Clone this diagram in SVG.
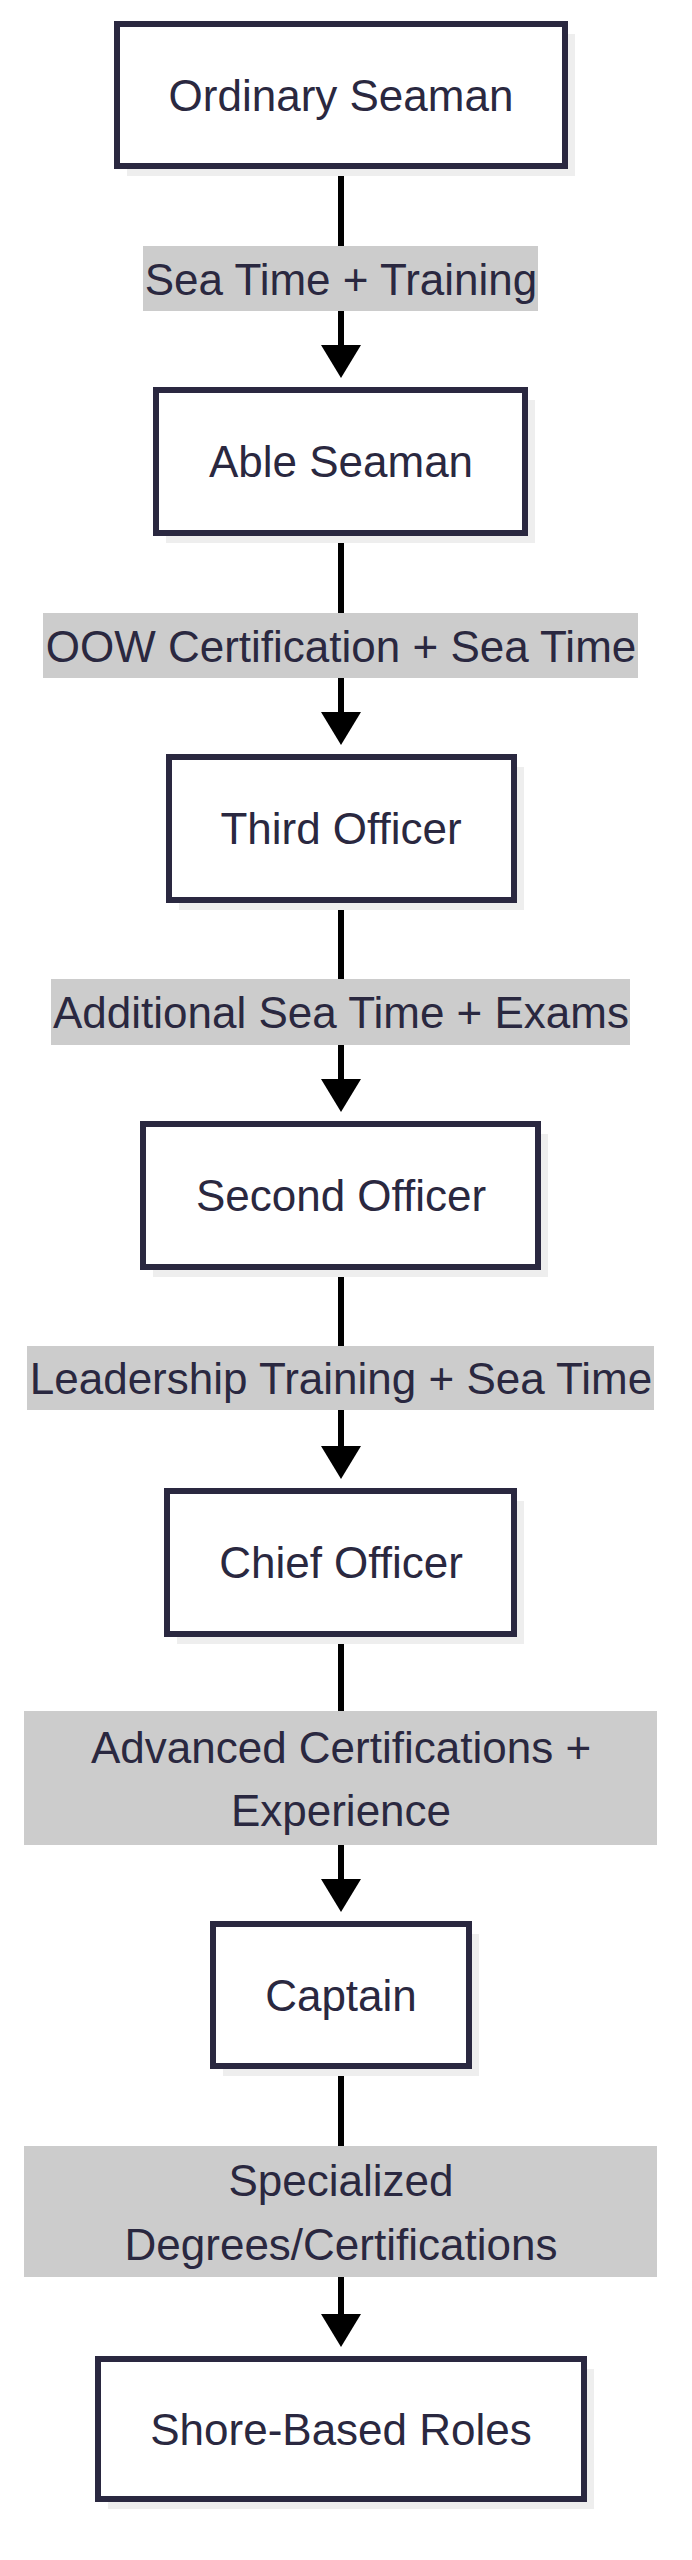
<svg xmlns="http://www.w3.org/2000/svg" width="692" height="2560" viewBox="0 0 692 2560">
<style>
.sh{fill:#eeeeee}
.bx{fill:#fff;stroke:#2a2840;stroke-width:6}
.t{font-family:"Liberation Sans",Arial,sans-serif;font-size:44px;fill:#2a2840;text-anchor:middle;dominant-baseline:central}
.lb{fill:#cccccc}
.ln{stroke:#000;stroke-width:6;fill:none}
.hd{fill:#000}
</style>
<rect width="692" height="2560" fill="#fff"/>
<g id="connectors">
<line class="ln" x1="341" y1="166" x2="341" y2="350"/><path class="hd" d="M321,345 L361,345 L341,378 Z"/>
<line class="ln" x1="341" y1="533" x2="341" y2="717"/><path class="hd" d="M321,712 L361,712 L341,745 Z"/>
<line class="ln" x1="341" y1="900" x2="341" y2="1084"/><path class="hd" d="M321,1079 L361,1079 L341,1112 Z"/>
<line class="ln" x1="341" y1="1267" x2="341" y2="1451"/><path class="hd" d="M321,1446 L361,1446 L341,1479 Z"/>
<line class="ln" x1="341" y1="1634" x2="341" y2="1884"/><path class="hd" d="M321,1879 L361,1879 L341,1912 Z"/>
<line class="ln" x1="341" y1="2066" x2="341" y2="2319"/><path class="hd" d="M321,2314 L361,2314 L341,2347 Z"/>
<g id="labels">
<rect class="lb" x="143" y="246" width="395" height="65"/><text class="t" x="341" y="279">Sea Time + Training</text>
<rect class="lb" x="43" y="613" width="595" height="65"/><text class="t" x="341" y="646">OOW Certification + Sea Time</text>
<rect class="lb" x="51" y="979" width="579" height="66"/><text class="t" x="341" y="1012">Additional Sea Time + Exams</text>
<rect class="lb" x="27" y="1346" width="627" height="64"/><text class="t" x="341" y="1378">Leadership Training + Sea Time</text>
<rect class="lb" x="24" y="1711" width="633" height="134"/><text class="t" x="341" y="1747">Advanced Certifications +</text><text class="t" x="341" y="1810">Experience</text>
<rect class="lb" x="24" y="2146" width="633" height="131"/><text class="t" x="341" y="2180">Specialized</text><text class="t" x="341" y="2244">Degrees/Certifications</text>
</g>
</g>
<g id="n1"><rect class="sh" x="127" y="34" width="448" height="142"/><rect class="bx" x="117" y="24" width="448" height="142"/><text class="t" x="341" y="95">Ordinary Seaman</text></g>
<g id="n2"><rect class="sh" x="166" y="400" width="369" height="143"/><rect class="bx" x="156" y="390" width="369" height="143"/><text class="t" x="341" y="461">Able Seaman</text></g>
<g id="n3"><rect class="sh" x="179" y="767" width="345" height="143"/><rect class="bx" x="169" y="757" width="345" height="143"/><text class="t" x="341" y="828">Third Officer</text></g>
<g id="n4"><rect class="sh" x="153" y="1134" width="395" height="143"/><rect class="bx" x="143" y="1124" width="395" height="143"/><text class="t" x="341" y="1195">Second Officer</text></g>
<g id="n5"><rect class="sh" x="177" y="1501" width="347" height="143"/><rect class="bx" x="167" y="1491" width="347" height="143"/><text class="t" x="341" y="1562">Chief Officer</text></g>
<g id="n6"><rect class="sh" x="223" y="1934" width="256" height="142"/><rect class="bx" x="213" y="1924" width="256" height="142"/><text class="t" x="341" y="1995">Captain</text></g>
<g id="n7"><rect class="sh" x="108" y="2369" width="486" height="140"/><rect class="bx" x="98" y="2359" width="486" height="140"/><text class="t" x="341" y="2429">Shore-Based Roles</text></g>
</svg>
